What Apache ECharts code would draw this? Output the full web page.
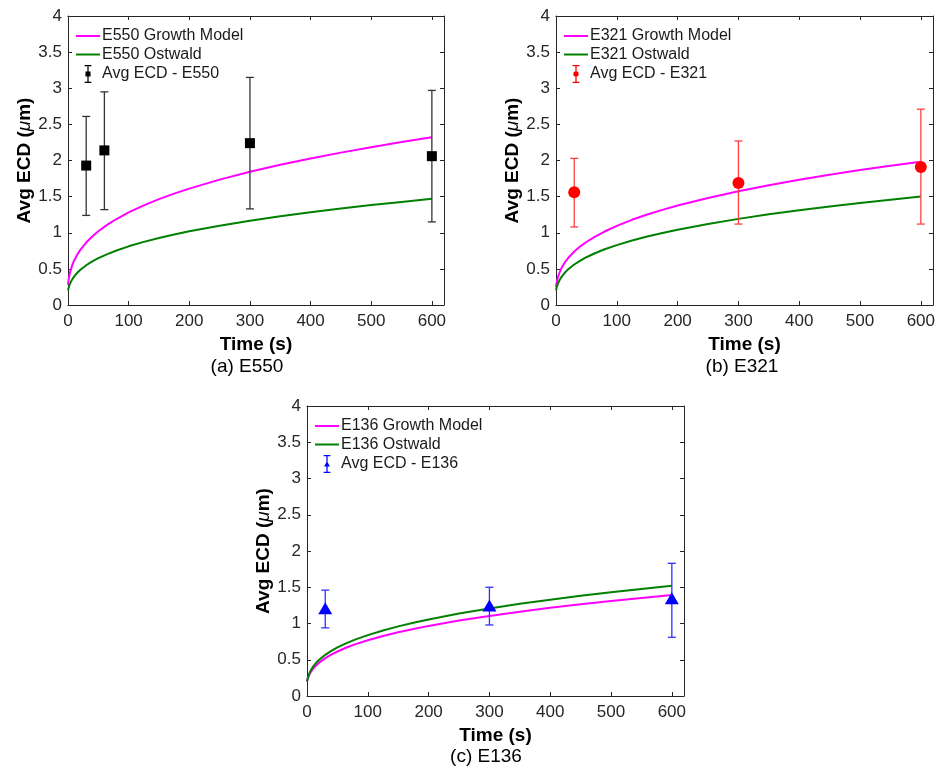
<!DOCTYPE html>
<html>
<head>
<meta charset="utf-8">
<title>Avg ECD vs Time</title>
<script src="https://cdn.jsdelivr.net/npm/echarts@6/dist/echarts.min.js"></script>
<style>
  html, body { margin: 0; padding: 0; background: #ffffff; }
  #chart { width: 939px; height: 769px; }
</style>
</head>
<body>
<div id="chart"></div>
<script>
// ---- data ----
// Time samples (s) for the model curves
const tCurve = [0, 1, 2, 4, 7, 10, 15, 20, 30, 40, 50, 65, 80, 100, 125, 150, 175, 200, 250, 300, 350, 400, 450, 500, 550, 600];

// E550
const growthE550  = [0.280, 0.350, 0.399, 0.472, 0.551, 0.613, 0.694, 0.759, 0.864, 0.949, 1.020, 1.112, 1.190, 1.281, 1.379, 1.465, 1.542, 1.611, 1.735, 1.843, 1.940, 2.028, 2.109, 2.184, 2.255, 2.321];
const ostwaldE550 = [0.200, 0.237, 0.265, 0.308, 0.355, 0.393, 0.443, 0.484, 0.550, 0.603, 0.648, 0.705, 0.754, 0.812, 0.874, 0.928, 0.976, 1.020, 1.098, 1.167, 1.228, 1.284, 1.335, 1.383, 1.427, 1.469];
const timeE550 = [30, 60, 300, 600];
const ecdE550  = [1.93, 2.14, 2.24, 2.06];
const lowE550  = [1.24, 1.32, 1.33, 1.15];
const highE550 = [2.61, 2.95, 3.15, 2.97];

// E321
const growthE321  = [0.250, 0.306, 0.346, 0.407, 0.474, 0.526, 0.595, 0.650, 0.740, 0.812, 0.872, 0.950, 1.017, 1.095, 1.179, 1.252, 1.317, 1.377, 1.482, 1.575, 1.658, 1.733, 1.802, 1.867, 1.926, 1.983];
const ostwaldE321 = [0.200, 0.239, 0.268, 0.312, 0.362, 0.400, 0.452, 0.494, 0.561, 0.615, 0.661, 0.720, 0.771, 0.829, 0.892, 0.948, 0.997, 1.042, 1.122, 1.192, 1.255, 1.311, 1.364, 1.412, 1.458, 1.501];
const timeE321 = [30, 300, 600];
const ecdE321  = [1.56, 1.69, 1.91];
const lowE321  = [1.08, 1.12, 1.12];
const highE321 = [2.03, 2.27, 2.71];

// E136
const growthE136  = [0.200, 0.232, 0.257, 0.296, 0.340, 0.375, 0.422, 0.460, 0.522, 0.572, 0.614, 0.669, 0.715, 0.770, 0.828, 0.879, 0.925, 0.967, 1.041, 1.105, 1.163, 1.216, 1.265, 1.310, 1.352, 1.392];
const ostwaldE136 = [0.200, 0.240, 0.270, 0.316, 0.366, 0.405, 0.458, 0.500, 0.568, 0.623, 0.670, 0.730, 0.781, 0.840, 0.904, 0.960, 1.010, 1.056, 1.137, 1.208, 1.272, 1.329, 1.382, 1.431, 1.477, 1.521];
const timeE136 = [30, 300, 600];
const ecdE136  = [1.21, 1.25, 1.35];
const lowE136  = [0.94, 0.98, 0.81];
const highE136 = [1.46, 1.50, 1.83];

// Axis ticks
const xTicks = { min: 0, max: 620, interval: 100 };
const yTicks = { min: 0, max: 4, interval: 0.5 };

// ---- styling ----
const FONT = '"Liberation Sans", Arial, Helvetica, sans-serif';
const AXIS_COLOR = '#262626';
const MAGENTA = '#ff00ff';
const GREEN = '#008000';

// Legend glyphs
const LINE_GLYPH = 'path://M0,0L24,0L24,2L0,2Z';
// error bar: caps + stem + marker, in a 12x32 box
const BAR_PARTS = 'M0,0L12,0L12,2.2L0,2.2Z M4.9,0L7.1,0L7.1,32L4.9,32Z M0,29.8L12,29.8L12,32L0,32Z ';
const GLYPH_SQUARE = 'path://' + BAR_PARTS + 'M1.5,11.5L10.5,11.5L10.5,20.5L1.5,20.5Z';
const GLYPH_CIRCLE = 'path://' + BAR_PARTS + 'M1.2,16A4.8,4.8,0,1,1,10.8,16A4.8,4.8,0,1,1,1.2,16Z';
const GLYPH_TRIANGLE = 'path://' + BAR_PARTS + 'M0.8,20.5L6,11L11.2,20.5Z';

const panels = [
  { id: 'E550', label: '(a) E550', grid: { left: 68, top: 16, width: 376, height: 289 }, captionX: 247, captionY: 367,
    growth: growthE550, ostwald: ostwaldE550, t: timeE550, ecd: ecdE550, low: lowE550, high: highE550,
    markColor: '#000000', barColor: '#333333', symbol: 'rect', symbolSize: 10, glyph: GLYPH_SQUARE },
  { id: 'E321', label: '(b) E321', grid: { left: 556, top: 16, width: 377, height: 289 }, captionX: 742, captionY: 367,
    growth: growthE321, ostwald: ostwaldE321, t: timeE321, ecd: ecdE321, low: lowE321, high: highE321,
    markColor: '#ff0000', barColor: '#ff4040', symbol: 'circle', symbolSize: 12, glyph: GLYPH_CIRCLE },
  { id: 'E136', label: '(c) E136', grid: { left: 307, top: 406, width: 377, height: 290 }, captionX: 486, captionY: 757,
    growth: growthE136, ostwald: ostwaldE136, t: timeE136, ecd: ecdE136, low: lowE136, high: highE136,
    markColor: '#0000ff', barColor: '#3030ff', symbol: 'triangle', symbolSize: [14, 12], glyph: GLYPH_TRIANGLE }
];

function errorBarItem(params, api) {
  const x = api.value(0);
  const top = api.coord([x, api.value(2)]);
  const bot = api.coord([x, api.value(1)]);
  const color = api.visual('color');
  const hw = 4;
  const st = () => ({ stroke: color, lineWidth: 1.3 });
  return {
    type: 'group',
    children: [
      { type: 'line', shape: { x1: top[0], y1: top[1], x2: bot[0], y2: bot[1] }, style: st() },
      { type: 'line', shape: { x1: top[0] - hw, y1: top[1], x2: top[0] + hw, y2: top[1] }, style: st() },
      { type: 'line', shape: { x1: bot[0] - hw, y1: bot[1], x2: bot[0] + hw, y2: bot[1] }, style: st() }
    ]
  };
}

const grids = [], xAxes = [], yAxes = [], series = [], legends = [], captions = [];

panels.forEach((p, i) => {
  grids.push(Object.assign({ containLabel: false }, p.grid));

  const tick = { inside: true, length: 4, lineStyle: { color: AXIS_COLOR, width: 1 } };
  const line = { show: true, onZero: false, lineStyle: { color: AXIS_COLOR, width: 1 } };

  // bottom x axis with labels
  xAxes.push({
    gridIndex: i, type: 'value', position: 'bottom',
    min: xTicks.min, max: xTicks.max, interval: xTicks.interval,
    axisLine: line, axisTick: tick, splitLine: { show: false },
    axisLabel: { color: AXIS_COLOR, fontSize: 17, fontFamily: FONT, margin: 8,
      formatter: v => (v > 600 ? '' : String(v)) },
    name: 'Time (s)', nameLocation: 'middle', nameGap: 30,
    nameTextStyle: { fontSize: 19, fontWeight: 'bold', fontFamily: FONT, color: '#000' }
  });
  // top x axis (box edge with ticks)
  xAxes.push({
    gridIndex: i, type: 'value', position: 'top',
    min: xTicks.min, max: xTicks.max, interval: xTicks.interval,
    axisLine: line, axisTick: tick, splitLine: { show: false }, axisLabel: { show: false }
  });
  // left y axis with labels
  yAxes.push({
    gridIndex: i, type: 'value', position: 'left',
    min: yTicks.min, max: yTicks.max, interval: yTicks.interval,
    axisLine: line, axisTick: tick, splitLine: { show: false },
    axisLabel: { color: AXIS_COLOR, fontSize: 17, fontFamily: FONT, margin: 6 },
    name: 'Avg ECD ({i|μ}m)', nameLocation: 'middle', nameGap: 28,
    nameTextStyle: { fontSize: 19, fontWeight: 'bold', fontFamily: FONT, color: '#000',
      rich: { i: { fontSize: 19, fontStyle: 'italic', fontWeight: 'normal', fontFamily: FONT, color: '#000' } } }
  });
  // right y axis (box edge with ticks)
  yAxes.push({
    gridIndex: i, type: 'value', position: 'right',
    min: yTicks.min, max: yTicks.max, interval: yTicks.interval,
    axisLine: line, axisTick: tick, splitLine: { show: false }, axisLabel: { show: false }
  });

  const xi = 2 * i, yi = 2 * i;
  const growthName = p.id + ' Growth Model';
  const ostwaldName = p.id + ' Ostwald';
  const avgName = 'Avg ECD - ' + p.id;

  series.push({
    type: 'line', name: growthName, xAxisIndex: xi, yAxisIndex: yi,
    data: tCurve.map((t, k) => [t, p.growth[k]]),
    showSymbol: false, symbol: 'none',
    lineStyle: { color: MAGENTA, width: 2 }, itemStyle: { color: MAGENTA }, z: 2
  });
  series.push({
    type: 'line', name: ostwaldName, xAxisIndex: xi, yAxisIndex: yi,
    data: tCurve.map((t, k) => [t, p.ostwald[k]]),
    showSymbol: false, symbol: 'none',
    lineStyle: { color: GREEN, width: 2 }, itemStyle: { color: GREEN }, z: 2
  });
  series.push({
    type: 'custom', name: avgName, xAxisIndex: xi, yAxisIndex: yi,
    data: p.t.map((t, k) => [t, p.low[k], p.high[k]]),
    encode: { x: 0, y: [1, 2] },
    renderItem: errorBarItem,
    itemStyle: { color: p.barColor }, z: 3
  });
  series.push({
    type: 'scatter', name: avgName, xAxisIndex: xi, yAxisIndex: yi,
    data: p.t.map((t, k) => [t, p.ecd[k]]),
    symbol: p.symbol, symbolSize: p.symbolSize,
    itemStyle: { color: p.markColor, opacity: 1 }, z: 4
  });

  legends.push({
    orient: 'vertical', left: p.grid.left + 8, top: p.grid.top + 12,
    itemWidth: 24, itemHeight: 18, itemGap: 2.5, padding: 0,
    textStyle: { fontSize: 16, fontFamily: FONT, color: '#1a1a1a', padding: [0, 0, 0, -3] },
    selectedMode: false,
    data: [
      { name: growthName, icon: LINE_GLYPH, itemStyle: { color: MAGENTA } },
      { name: ostwaldName, icon: LINE_GLYPH, itemStyle: { color: GREEN } },
      { name: avgName, icon: p.glyph, itemStyle: { color: p.markColor } }
    ]
  });

  captions.push({
    x: p.captionX, y: p.captionY,
    style: { text: p.label, x: 0, y: 0, align: 'center', verticalAlign: 'middle',
      font: '19px ' + FONT, fill: '#000' }
  });
});

const chart = echarts.init(document.getElementById('chart'), null, { renderer: 'canvas' });
chart.setOption({
  backgroundColor: '#ffffff',
  animation: false,
  grid: grids,
  xAxis: xAxes,
  yAxis: yAxes,
  legend: legends,
  series: series,
  graphic: captions.map(c => ({ type: 'text', x: c.x, y: c.y, style: c.style }))
});
</script>
</body>
</html>
